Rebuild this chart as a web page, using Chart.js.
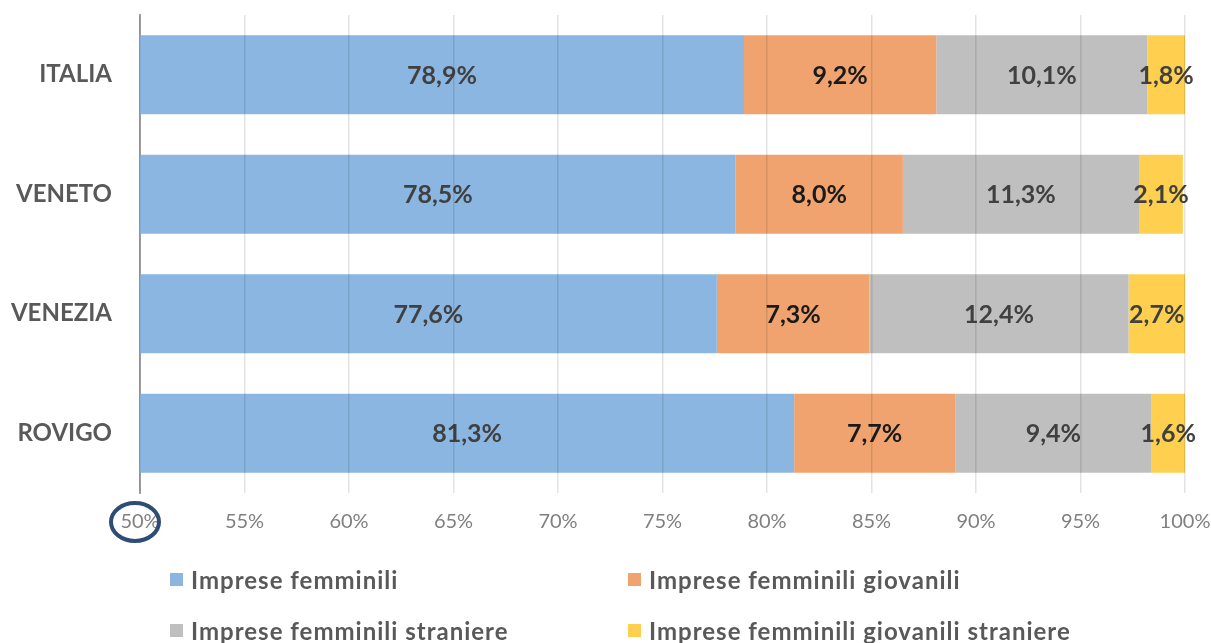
<!DOCTYPE html>
<html><head><meta charset="utf-8">
<script src="https://cdn.jsdelivr.net/npm/chart.js@4"></script>
<style>html,body{margin:0;padding:0;background:#fff}#wrap{width:1211px;height:643px;position:relative}</style>
</head><body><div id="wrap"><canvas id="c" width="1211" height="643"></canvas></div>
<script>
const categories = ["ITALIA", "VENETO", "VENEZIA", "ROVIGO"];
const seriesNames = ["Imprese femminili", "Imprese femminili giovanili", "Imprese femminili straniere", "Imprese femminili giovanili straniere"];
const femminili = [78.9, 78.5, 77.6, 81.3];
const giovanili = [9.2, 8.0, 7.3, 7.7];
const straniere = [10.1, 11.3, 12.4, 9.4];
const giovaniliStraniere = [1.8, 2.1, 2.7, 1.6];
const xTicks = [50, 55, 60, 65, 70, 75, 80, 85, 90, 95, 100];
const colors = ["#8BB6E1", "#F0A36E", "#BFBFBF", "#FFD04F"];
const labelColors = ["#404040", "#1a1a1a", "#404040", "#404040"];
const FONT = "Lato";

const seriesData = [femminili, giovanili, straniere, giovaniliStraniere];
const datasets = seriesData.map((d, i) => ({
  label: seriesNames[i], data: d, backgroundColor: colors[i], borderWidth: 0,
  barPercentage: 0.66, categoryPercentage: 1.0
}));

const fmt = v => v.toFixed(1).replace('.', ',') + '%';

const labelPlugin = {
  id: 'labels',
  afterDatasetsDraw(chart) {
    const ctx = chart.ctx, area = chart.chartArea;
    ctx.save();
    ctx.font = "bold 25px " + FONT;
    ctx.textAlign = 'center'; ctx.textBaseline = 'middle';
    chart.data.datasets.forEach((ds, i) => {
      const meta = chart.getDatasetMeta(i);
      meta.data.forEach((bar, j) => {
        const p = bar.getProps(['x', 'y', 'base'], true);
        const l = Math.max(Math.min(p.x, p.base), area.left);
        const r = Math.min(Math.max(p.x, p.base), area.right);
        ctx.fillStyle = labelColors[i];
        ctx.fillText(fmt(ds.data[j]), (l + r) / 2, p.y + 1);
      });
    });
    ctx.restore();
  },
  afterDraw(chart) {
    const ctx = chart.ctx;
    const xs = chart.scales.x;
    const cx = xs.getPixelForValue(xTicks[0]) - 5;
    const cy = 522;
    ctx.save();
    ctx.strokeStyle = "#2E4D74"; ctx.lineWidth = 4;
    ctx.beginPath(); ctx.ellipse(cx, cy, 24, 19, 0, 0, Math.PI * 2); ctx.stroke();
    ctx.font = "bold 24px " + FONT;
    try { ctx.letterSpacing = "1px"; } catch (e) {}
    ctx.textAlign = 'left'; ctx.textBaseline = 'middle';
    const pos = [[170, 580], [628, 580], [170, 631], [628, 631]];
    seriesNames.forEach((n, i) => {
      const [x, y] = pos[i];
      ctx.fillStyle = colors[i];
      ctx.fillRect(x, y - 7, 13, 13);
      ctx.fillStyle = "#595959";
      ctx.fillText(n, x + 21, y + 1);
    });
    ctx.restore();
  }
};

new Chart(document.getElementById('c'), {
  type: 'bar',
  data: { labels: categories, datasets },
  options: {
    indexAxis: 'y', responsive: false, animation: false,
    layout: { padding: { top: 15, right: 26, left: 0, bottom: 0 } },
    plugins: { legend: { display: false }, tooltip: { enabled: false } },
    scales: {
      x: {
        stacked: true, min: 50, max: 100,
        afterBuildTicks: s => { s.ticks = xTicks.map(v => ({ value: v })); },
        afterFit: s => { s.height = 150; },
        grid: { color: "rgba(0,0,0,0.11)", lineWidth: 1.5, tickLength: 17, tickColor: "rgba(0,0,0,0)", z: 1, drawTicks: true },
        border: { display: false },
        ticks: { callback: v => v + '%', color: "#808080", font: { family: FONT, size: 20 }, padding: 0, maxRotation: 0, autoSkip: false }
      },
      y: {
        stacked: true,
        afterFit: s => { s.width = 140; },
        grid: { display: false, drawTicks: true, tickLength: 28 },
        border: { display: true, color: "#a6a6a6", width: 2 },
        ticks: { color: "#595959", font: { family: FONT, size: 24, weight: 'bold' }, padding: 0 }
      }
    }
  },
  plugins: [labelPlugin]
});
</script></body></html>
